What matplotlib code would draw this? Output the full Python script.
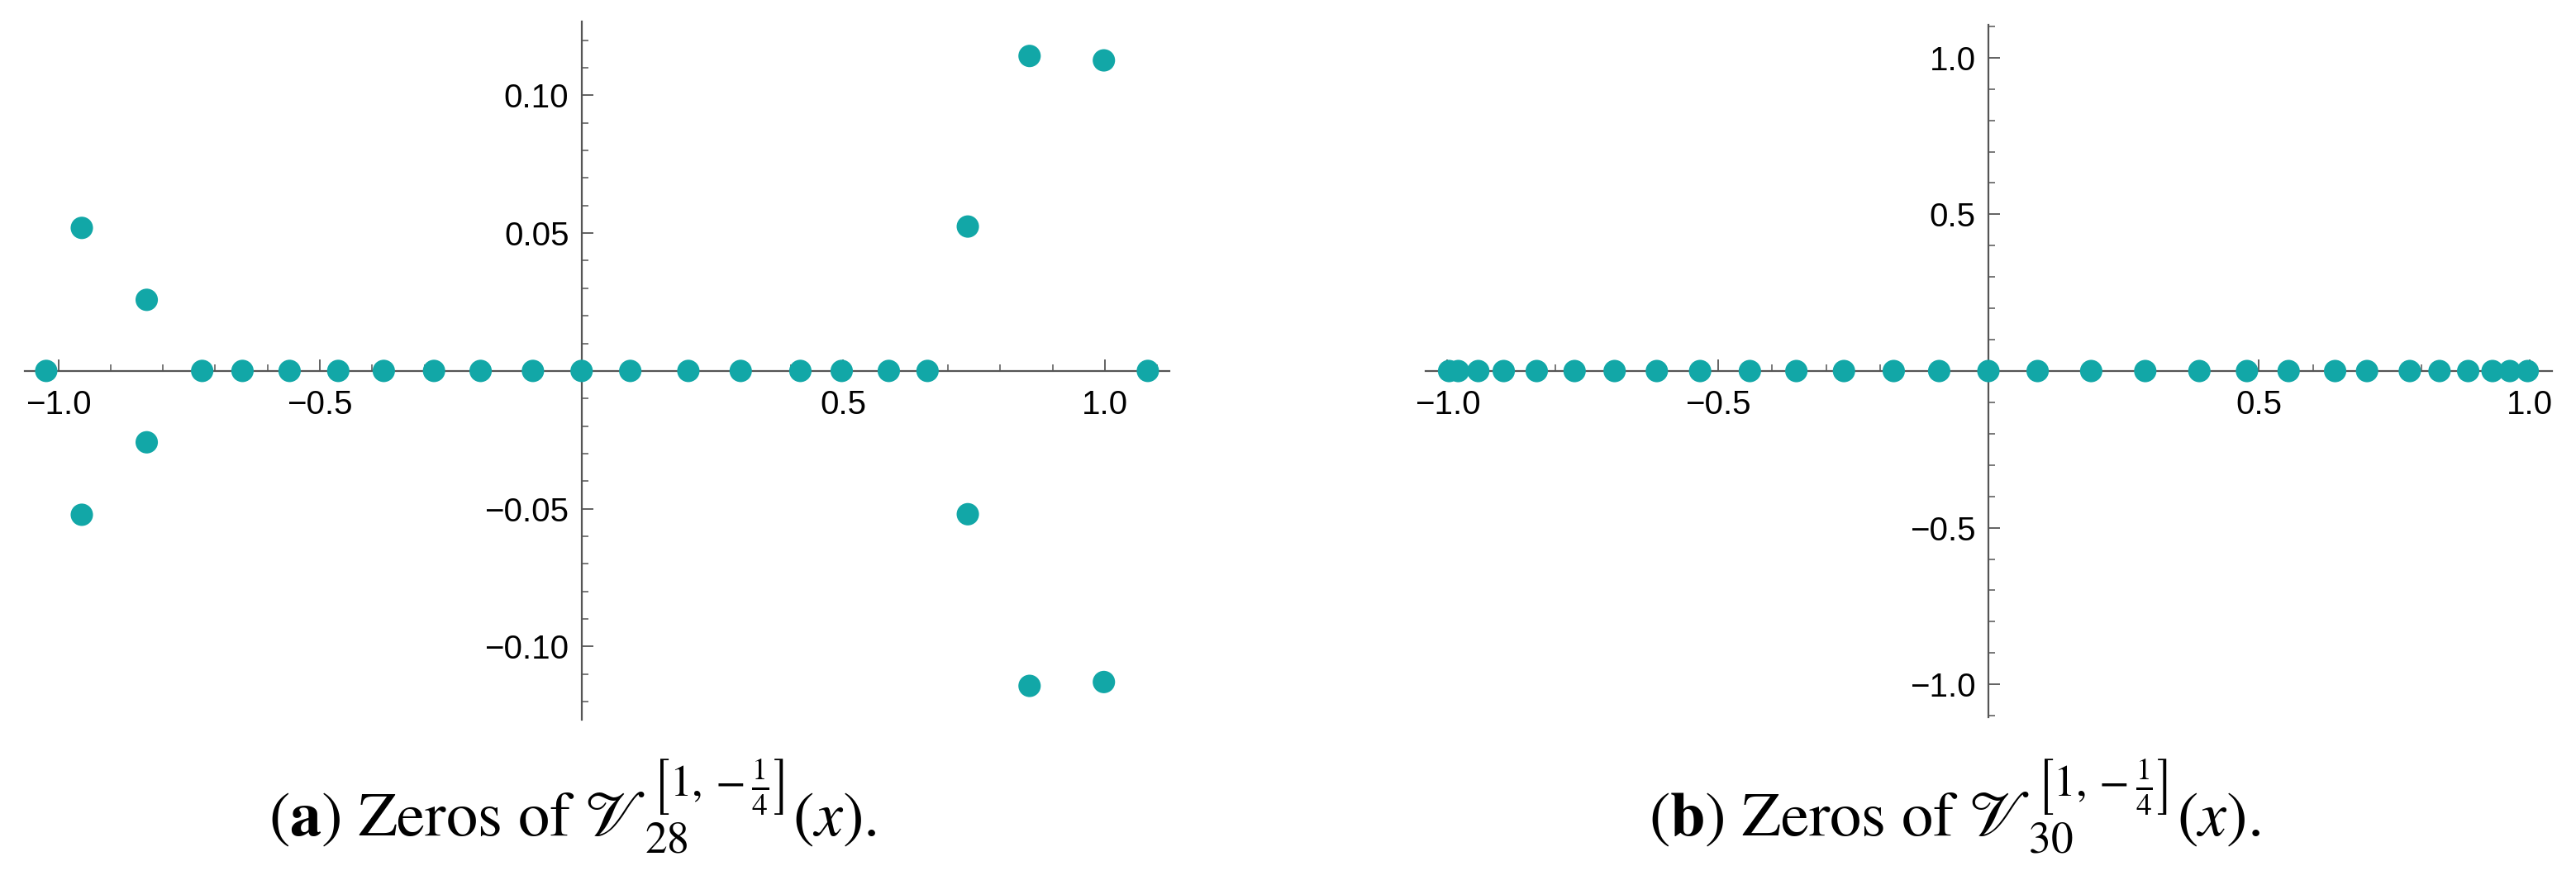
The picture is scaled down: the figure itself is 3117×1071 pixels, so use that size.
import numpy as np
import matplotlib
matplotlib.use('Agg')
import matplotlib.pyplot as plt
from matplotlib.ticker import MultipleLocator

# zeros of V_28 (left): real part, imaginary part
re_28 = [-1.023, -0.955, -0.955, -0.831, -0.831, -0.725, -0.648, -0.558, -0.465,
         -0.378, -0.282, -0.193, -0.093, 0.0, 0.093, 0.204, 0.304, 0.418, 0.497,
         0.587, 0.661, 0.738, 0.738, 0.856, 0.856, 0.998, 0.998, 1.082]
im_28 = [0.0, 0.0519, -0.0522, 0.0258, -0.0259, 0.0, 0.0, 0.0, 0.0,
         0.0, 0.0, 0.0, 0.0, 0.0, 0.0, 0.0, 0.0, 0.0, 0.0,
         0.0, 0.0, 0.0524, -0.0520, 0.1143, -0.1143, 0.1127, -0.1129, 0.0]

# zeros of V_30 (right): all real
re_30 = [-0.997, -0.980, -0.943, -0.896, -0.835, -0.765, -0.691, -0.613, -0.533,
         -0.441, -0.355, -0.267, -0.175, -0.091, 0.0, 0.091, 0.190, 0.290, 0.390,
         0.478, 0.555, 0.641, 0.700, 0.779, 0.834, 0.887, 0.932, 0.964, 0.997]
im_30 = [0.0] * len(re_30)

xticks = [-1.0, -0.5, 0.5, 1.0]
xlabels = ['\u22121.0', '\u22120.5', '0.5', '1.0']
yticks_a = [-0.10, -0.05, 0.05, 0.10]
ylabels_a = ['\u22120.10', '\u22120.05', '0.05', '0.10']
yticks_b = [-1.0, -0.5, 0.5, 1.0]
ylabels_b = ['\u22121.0', '\u22120.5', '0.5', '1.0']

plt.rcParams['font.family'] = ['Liberation Sans', 'DejaVu Sans']
plt.rcParams['mathtext.fontset'] = 'stix'

dot_col = '#12a7a7'
axis_col = '#555555'

fig = plt.figure(figsize=(31.17, 10.71), dpi=100)


def style_axes(ax, xlim, ylim, yt, yl, ymin_step):
    ax.set_xlim(xlim)
    ax.set_ylim(ylim)
    # mathematica style axes crossing at origin
    for s in ['top', 'right']:
        ax.spines[s].set_visible(False)
    ax.spines['left'].set_position(('data', 0))
    ax.spines['bottom'].set_position(('data', 0))
    for s in ['left', 'bottom']:
        ax.spines[s].set_color(axis_col)
        ax.spines[s].set_linewidth(1.6)
    ax.set_xticks(xticks, xlabels)
    ax.set_yticks(yt, yl)
    ax.xaxis.set_minor_locator(MultipleLocator(0.1))
    ax.yaxis.set_minor_locator(MultipleLocator(ymin_step))
    ax.tick_params(which='major', direction='in', length=10, width=1.3,
                   color=axis_col, labelsize=29)
    ax.tick_params(which='minor', direction='in', length=6, width=1.1,
                   color=axis_col)
    ax.tick_params(axis='x', which='major', pad=16)
    ax.tick_params(axis='y', which='major', pad=11)
    ax.patch.set_alpha(0)


# ---- panel (a)
ax1 = fig.add_axes([0.00962, 0.1867, 0.4443, 0.789])
ax1.scatter(re_28, im_28, s=19.5**2, color=dot_col, edgecolors='none',
            zorder=3, clip_on=False)
style_axes(ax1, [-1.064, 1.123], [-0.1266, 0.1268], yticks_a, ylabels_a, 0.01)

# ---- panel (b)
ax2 = fig.add_axes([0.5533, 0.1895, 0.4374, 0.7825])
ax2.scatter(re_30, im_30, s=19.5**2, color=dot_col, edgecolors='none',
            zorder=3, clip_on=False)
style_axes(ax2, [-1.041, 1.042], [-1.105, 1.105], yticks_b, ylabels_b, 0.1)

# captions
fig.text(325 / 3117, 1 - 1011.7 / 1071,
         r'($\mathbf{a}$) Zeros of $\mathscr{V}_{28}^{\left[1,-\frac{1}{4}\right]}(x)$.',
         fontsize=55, family='STIXGeneral', ha='left', va='baseline')
fig.text(1995 / 3117, 1 - 1011.7 / 1071,
         r'($\mathbf{b}$) Zeros of $\mathscr{V}_{30}^{\left[1,-\frac{1}{4}\right]}(x)$.',
         fontsize=55, family='STIXGeneral', ha='left', va='baseline')

plt.savefig('out.png', dpi=100)
